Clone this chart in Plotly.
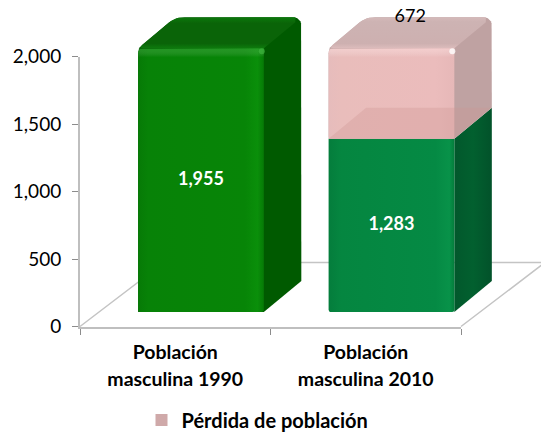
import plotly.graph_objects as go

lines_1 = ["Población", "masculina 1990"]
lines_2 = ["Población", "masculina 2010"]
population = [1955, 1283]
loss = [0, 672]
y_ticks = [0, 500, 1000, 1500, 2000]
loss_name = "Pérdida de población"

W, H = 541, 433
AX_L, AX_R, AX_Y0, PX_PER_UNIT = 80, 461, 326.5, 0.135
CAT_PX = (AX_R - AX_L) / 2
BAR_SHIFT, BAR_W = 0.135, 0.66
BASE = 107
DX, DY = 37.5 / CAT_PX, 31 / PX_PER_UNIT
PX_X, PX_Y = 1 / CAT_PX, 1 / PX_PER_UNIT
FONT = "Lato"
CAT_STYLE = "<span style='font-size:19.5px'>{}</span>"
categories = ["<br>".join(CAT_STYLE.format(s) for s in ln) for ln in (lines_1, lines_2)]


def bar_edges(i):
    left = i + BAR_SHIFT - BAR_W / 2
    return left, left + BAR_W


def poly(points, radii=None):
    """Closed outline through points; radii maps a point index to a corner radius in px."""
    radii = radii or {}
    xs, ys = [], []
    n = len(points)
    for k, (x, y) in enumerate(points):
        r = radii.get(k, 0)
        if not r:
            xs.append(x)
            ys.append(y)
            continue
        ends = []
        for (ox, oy) in (points[k - 1], points[(k + 1) % n]):
            ddx, ddy = (ox - x) / PX_X, (oy - y) / PX_Y
            d = (ddx ** 2 + ddy ** 2) ** 0.5
            ends.append((x + ddx / d * r * PX_X, y + ddy / d * r * PX_Y))
        for j in range(7):
            s = j / 6
            xs.append((1 - s) ** 2 * ends[0][0] + 2 * s * (1 - s) * x + s ** 2 * ends[1][0])
            ys.append((1 - s) ** 2 * ends[0][1] + 2 * s * (1 - s) * y + s ** 2 * ends[1][1])
    return xs + xs[:1], ys + ys[:1]


fig = go.Figure()
fig.add_trace(go.Scatter(x=categories, y=population, mode="markers", marker=dict(opacity=0),
                         showlegend=False, hoverinfo="skip", xaxis="x", yaxis="y"))


def add(xy, color=None, grad=None, gtype="horizontal"):
    kw = dict(fillcolor=color) if color else dict(fillgradient=dict(type=gtype, colorscale=grad))
    fig.add_trace(go.Scatter(x=xy[0], y=xy[1], mode="lines", fill="toself", line=dict(width=0),
                             showlegend=False, hoverinfo="skip", xaxis="x2", yaxis="y2", **kw))


def glow(x, y, color):
    fig.add_trace(go.Scatter(x=[x], y=[y], mode="markers", marker=dict(size=6, color=color, line=dict(width=0)),
                             showlegend=False, hoverinfo="skip", xaxis="x2", yaxis="y2"))


FLOOR_DX = 84 * PX_X
FLOOR_DY = 64 * PX_Y
fig.add_trace(go.Scatter(x=[-0.5, -0.5 + FLOOR_DX, 1.5 + FLOOR_DX, 1.5], y=[0, FLOOR_DY, FLOOR_DY, 0],
                         mode="lines", line=dict(color="#c4c4c4", width=1.5),
                         showlegend=False, hoverinfo="skip", xaxis="x2", yaxis="y2"))


def rounded_box(i, b, t, front, side, top, band, spot):
    l, r = bar_edges(i)
    add(poly([(l, b), (r, b), (r + DX, b + DY), (r + DX, t + DY), (l + DX, t + DY), (l, t)],
             {3: 9, 4: 9, 5: 5}), color=side)
    add(poly([(l, t), (r, t), (r + DX - 6 * PX_X, t + DY - 5 * PX_Y), (r + DX - 6 * PX_X, t + DY), (l + DX, t + DY)],
             {0: 5, 4: 9}), grad=top, gtype="vertical")
    add(poly([(l, b), (r, b), (r, t), (l, t)], {0: 2, 1: 2, 3: 5}), grad=front)
    add(poly([(l, t - 9 * PX_Y), (r, t - 9 * PX_Y), (r, t), (l, t)], {3: 5}),
        grad=[[0, "rgba(255,255,255,0)"], [1, band]], gtype="vertical")
    glow(r - 2 * PX_X, t - 3 * PX_Y, spot)


GREEN1 = dict(front=[[0, "#067a06"], [0.08, "#078207"], [0.85, "#078507"], [0.95, "#0a8f0a"], [1, "#067a06"]],
              side="#005a00",
              top=[[0, "#0d7a0d"], [0.15, "#0a6408"], [0.8, "#0a6408"], [1, "#0c780c"]],
              band="rgba(90,190,90,0.3)", spot="rgba(70,190,70,0.55)")
PINK = dict(front=[[0, "#e6bcbc"], [0.1, "#e9bdbb"], [0.85, "#ebbcbc"], [1, "#e6b8b8"]],
            side="#bfa2a2",
            top=[[0, "#dcbcbc"], [0.15, "#cdb0b0"], [0.85, "#cdb3b3"], [1, "#d5baba"]],
            band="rgba(255,225,225,0.45)", spot="rgba(255,255,255,0.8)")
G2_FRONT = [[0, "#047d3c"], [0.1, "#058640"], [0.85, "#058a44"], [0.96, "#089249"], [1, "#047d3c"]]
G2_SIDE = [[0, "#02582c"], [0.5, "#02602f"], [1, "#02522a"]]

rounded_box(0, BASE, BASE + population[0], **GREEN1)

# second bar: green block, then the loss block stacked on it
l, r = bar_edges(1)
b = BASE + population[1]
add(poly([(r, BASE), (r + DX, BASE + DY), (r + DX, b + DY), (r, b)]), grad=G2_SIDE)
add(poly([(l, BASE), (r, BASE), (r, b), (l, b)], {0: 2, 1: 2}), grad=G2_FRONT)
rounded_box(1, b, b + loss[1], **PINK)
add(poly([(l, b), (r, b), (r + DX, b + DY), (l + DX, b + DY)]), color="rgba(205,150,145,0.32)")

fig.add_trace(go.Scatter(
    x=[bar_edges(0)[0] + BAR_W / 2, bar_edges(1)[0] + BAR_W / 2],
    y=[BASE + population[0] / 2, BASE + population[1] / 2],
    mode="text", text=[f"{v:,}" for v in population],
    textfont=dict(family=FONT, size=18, color="white", weight="bold"),
    showlegend=False, hoverinfo="skip", xaxis="x2", yaxis="y2"))
fig.add_trace(go.Scatter(
    x=[bar_edges(1)[0] + BAR_W / 2 + DX / 2], y=[BASE + population[1] + loss[1] + DY],
    mode="text", text=[f"{loss[1]:,}"],
    textfont=dict(family=FONT, size=18, color="black"),
    showlegend=False, hoverinfo="skip", xaxis="x2", yaxis="y2"))

fig.add_trace(go.Scatter(x=[None], y=[None], mode="markers", name=loss_name,
                         marker=dict(symbol="square", size=12, color="#cfa9a9"),
                         xaxis="x2", yaxis="y2"))

axis_style = dict(showline=True, linecolor="#bfbfbf", linewidth=2, ticks="outside", ticklen=6,
                  tickcolor="#8c8c8c", tickwidth=1, showgrid=False, zeroline=False)
fig.update_layout(
    width=W, height=H, autosize=False,
    margin=dict(l=0, r=0, t=0, b=0, autoexpand=False),
    paper_bgcolor="white", plot_bgcolor="rgba(0,0,0,0)",
    font=dict(family=FONT, color="black"),
    xaxis=dict(type="category", categoryorder="array", categoryarray=categories, range=[-0.5, 1.5],
               domain=[AX_L / W, AX_R / W], anchor="y", tickson="boundaries", ticklabelstandoff=5,
               tickfont=dict(family=FONT, size=21, color="black", weight="bold"), **axis_style),
    yaxis=dict(range=[0, 2000], tickvals=y_ticks, tickformat=",d", ticklabelstandoff=7,
               domain=[(H - AX_Y0) / H, (H - AX_Y0 + 2000 * PX_PER_UNIT) / H], anchor="x",
               tickfont=dict(family=FONT, size=19, color="black"), **axis_style),
    xaxis2=dict(range=[-AX_L / CAT_PX - 0.5, (W - AX_L) / CAT_PX - 0.5], domain=[0, 1], anchor="y2", visible=False),
    yaxis2=dict(range=[-(H - AX_Y0) / PX_PER_UNIT, AX_Y0 / PX_PER_UNIT], domain=[0, 1], anchor="x2", visible=False),
    legend=dict(orientation="h", x=(W / 2 - 13) / W, xanchor="center", y=(H - 420) / H, yanchor="middle",
                font=dict(family=FONT, size=20, color="black", weight="bold"),
                bgcolor="rgba(0,0,0,0)"),
)
fig.write_html("out.html", config=dict(displayModeBar=False),
               post_script="document.body.style.margin='0';")
